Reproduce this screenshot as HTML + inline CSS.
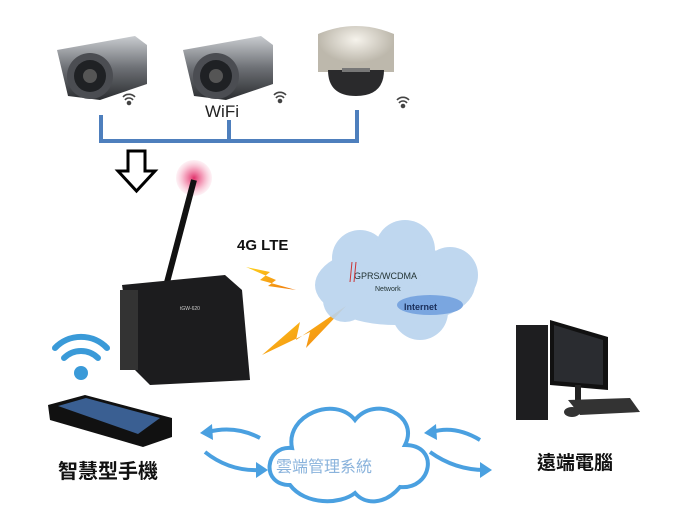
<!DOCTYPE html>
<html><head><meta charset="utf-8"><style>
html,body{margin:0;padding:0;background:#fff;width:700px;height:525px;overflow:hidden}
svg{display:block}
</style></head><body>
<svg width="700" height="525" viewBox="0 0 700 525" xmlns="http://www.w3.org/2000/svg" font-family="Liberation Sans, Noto Sans CJK TC, sans-serif">
<defs>
<linearGradient id="cam" x1="0" y1="0" x2="0" y2="1"><stop offset="0" stop-color="#c9ccd0"/><stop offset="0.5" stop-color="#6d7075"/><stop offset="1" stop-color="#2b2d30"/></linearGradient>
<radialGradient id="pink"><stop offset="0" stop-color="#e0306a"/><stop offset="0.5" stop-color="#f07aa0" stop-opacity="0.7"/><stop offset="1" stop-color="#f8b8cc" stop-opacity="0.2"/></radialGradient>
<radialGradient id="dome" cx="0.5" cy="0.3"><stop offset="0" stop-color="#f6f3ec"/><stop offset="1" stop-color="#bdb8ac"/></radialGradient>
<linearGradient id="bolt" x1="0" y1="0" x2="1" y2="1"><stop offset="0" stop-color="#ffd21a"/><stop offset="1" stop-color="#f07a10"/></linearGradient>
</defs>
<!-- cameras -->
<g>
<path d="M57,50 L135,36 L147,45 L147,84 L100,100 L68,96 Z" fill="url(#cam)"/>
<circle cx="90" cy="76" r="23" fill="#4b4d52"/><circle cx="90" cy="76" r="16" fill="#1f2124"/><circle cx="90" cy="76" r="7" fill="#555"/>
<path d="M183,50 L261,36 L273,45 L273,84 L226,100 L194,96 Z" fill="url(#cam)"/>
<circle cx="216" cy="76" r="23" fill="#4b4d52"/><circle cx="216" cy="76" r="16" fill="#1f2124"/><circle cx="216" cy="76" r="7" fill="#555"/>
<path d="M318,34 Q356,18 394,34 L394,72 L318,72 Z" fill="url(#dome)"/>
<path d="M328,70 L384,70 Q384,96 356,96 Q328,96 328,70 Z" fill="#2a2a2c"/>
<rect x="342" y="68" width="28" height="4" fill="#777"/>
</g>
<!-- small wifi icons -->
<g fill="none" stroke="#444" stroke-width="1.6">
<path d="M123,97 a8,8 0 0 1 12,0 M125,100 a5,5 0 0 1 8,0"/><circle cx="129" cy="103" r="1.5" fill="#444"/>
<path d="M274,95 a8,8 0 0 1 12,0 M276,98 a5,5 0 0 1 8,0"/><circle cx="280" cy="101" r="1.5" fill="#444"/>
<path d="M397,100 a8,8 0 0 1 12,0 M399,103 a5,5 0 0 1 8,0"/><circle cx="403" cy="106" r="1.5" fill="#444"/>
</g>
<text x="205" y="117" font-size="17" fill="#222">WiFi</text>
<!-- blue lines -->
<g stroke="#4e7fbd" stroke-width="4" fill="none">
<path d="M101,115 V141 H357 V110"/><path d="M229,120 V141"/>
</g>
<!-- down arrow -->
<path d="M128,151 H145 V171 H155 L136.5,191 L118,171 H128 Z" fill="#fff" stroke="#000" stroke-width="3"/>
<!-- antenna -->
<circle cx="194" cy="178" r="18" fill="url(#pink)"/>
<path d="M194,180 L165,290" stroke="#111" stroke-width="6"/>
<!-- device -->
<path d="M122,285 L225,275 L242,290 L250,380 L150,385 L135,370 Z" fill="#1c1c1e"/>
<rect x="120" y="290" width="18" height="80" fill="#333"/>
<text x="180" y="310" font-size="5" fill="#ccc">tGW-620</text>
<!-- 4G LTE -->
<text x="237" y="250" font-size="15" font-weight="bold" fill="#111">4G LTE</text>
<!-- bolts -->
<path d="M246,267 L270,272 L260,280 L296,290 L268,286 L276,280 Z" fill="url(#bolt)"/>
<path d="M262,355 L300,322 L296,340 L346,306 L306,348 L310,332 Z" fill="url(#bolt)"/>
<!-- GPRS cloud -->
<g fill="#b9d3ee" opacity="0.9">
<ellipse cx="395" cy="285" rx="80" ry="40"/><circle cx="360" cy="258" r="28"/><circle cx="405" cy="250" r="30"/><circle cx="450" cy="275" r="28"/><circle cx="420" cy="312" r="28"/><circle cx="345" cy="300" r="22"/>
</g>
<ellipse cx="430" cy="305" rx="33" ry="10" fill="#7aa6e0"/>
<text x="354" y="279" font-size="9" fill="#233">GPRS/WCDMA</text>
<text x="375" y="291" font-size="7" fill="#233">Network</text>
<text x="404" y="310" font-size="9" font-weight="bold" fill="#1a2e5a">Internet</text>
<path d="M352,262 L350,282 M356,262 L354,282" stroke="#c33" stroke-width="1"/>
<!-- wifi big -->
<g fill="none" stroke="#3a9ad8" stroke-width="6" stroke-linecap="round">
<path d="M55,348 a36,36 0 0 1 52,0"/><path d="M64,358 a24,24 0 0 1 34,0"/>
</g>
<circle cx="81" cy="373" r="7" fill="#3a9ad8"/>
<!-- phone -->
<path d="M48,405 L85,395 L172,418 L172,437 L143,447 L50,420 Z" fill="#111"/>
<path d="M58,406 L86,398 L160,418 L138,434 Z" fill="#3a5f92"/>
<text x="58" y="478" font-size="20" font-weight="bold" fill="#111">智慧型手機</text>
<!-- management cloud -->
<path d="M290,485 C260,485 265,445 292,448 C285,415 335,395 355,420 C375,395 420,415 405,445 C440,445 432,490 400,487 C385,505 365,505 355,493 C340,505 305,505 290,485 Z" fill="#fff" stroke="#4aa0e0" stroke-width="4"/>
<text x="276" y="472" font-size="16" fill="#8ab3dc">雲端管理系統</text>
<!-- arrows -->
<g fill="none" stroke="#4aa0e0" stroke-width="4">
<path d="M260,438 Q235,425 208,432"/><path d="M205,452 Q230,472 262,470"/>
<path d="M480,440 Q455,425 432,432"/><path d="M430,452 Q455,470 485,470"/>
</g>
<g fill="#4aa0e0">
<path d="M200,433 L212,424 L213,440 Z"/><path d="M268,470 L256,462 L256,478 Z"/>
<path d="M424,433 L436,424 L437,440 Z"/><path d="M492,470 L480,462 L480,478 Z"/>
</g>
<!-- computer -->
<rect x="516" y="325" width="32" height="95" fill="#1e1e20"/>
<path d="M550,320 L608,337 L608,390 L550,385 Z" fill="#111"/>
<path d="M554,325 L603,340 L603,385 L554,381 Z" fill="#2a2c30"/>
<rect x="575" y="385" width="6" height="20" fill="#222"/>
<path d="M568,400 L630,398 L640,412 L580,415 Z" fill="#333"/>
<ellipse cx="572" cy="412" rx="8" ry="5" fill="#333"/>
<text x="537" y="469" font-size="19" font-weight="bold" fill="#111">遠端電腦</text>
</svg>
</body></html>
